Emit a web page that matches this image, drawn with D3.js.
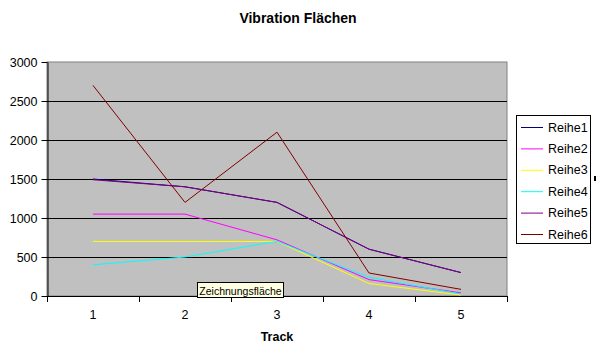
<!DOCTYPE html>
<html>
<head>
<meta charset="utf-8">
<script src="https://cdn.jsdelivr.net/npm/d3@7"></script>
<style>
  html, body { margin: 0; padding: 0; background: #fff; }
  svg { display: block; font-family: Arial, "Liberation Sans", sans-serif; }
</style>
</head>
<body>
<svg id="chart" width="596" height="344"></svg>
<script>
// Track numbers on the category axis
const tracks = ["1", "2", "3", "4", "5"];
const seriesNames = ["Reihe1", "Reihe2", "Reihe3", "Reihe4", "Reihe5", "Reihe6"];
const seriesColors = ["#000080", "#FF00FF", "#FFFF00", "#00FFFF", "#800080", "#800000"];
// Values per series, one per track
const reihe1 = [1500, 1400, 1200, 600, 300];
const reihe2 = [1050, 1050, 720, 210, 40];
const reihe3 = [700, 700, 700, 160, 12];
const reihe4 = [400, 500, 700, 240, 25];
const reihe5 = [1490, 1400, 1200, 600, 300];
const reihe6 = [2700, 1200, 2100, 295, 85];
const yTicks = [0, 500, 1000, 1500, 2000, 2500, 3000];

const seriesValues = [reihe1, reihe2, reihe3, reihe4, reihe5, reihe6];

const svg = d3.select("#chart");
const plot = { left: 47, right: 507, top: 62, bottom: 296 };

const x = d3.scaleBand().domain(tracks).range([plot.left, plot.right]).padding(0);
const y = d3.scaleLinear().domain([0, 3000]).range([plot.bottom, plot.top]);

// Title
svg.append("text")
  .attr("x", 298).attr("y", 23)
  .attr("text-anchor", "middle")
  .attr("font-size", 14).attr("font-weight", "bold")
  .text("Vibration Flächen");

// Plot area background
svg.append("rect")
  .attr("x", plot.left).attr("y", plot.top)
  .attr("width", plot.right - plot.left).attr("height", plot.bottom - plot.top)
  .attr("fill", "#C0C0C0").attr("stroke", "#808080").attr("stroke-width", 1);

// Horizontal gridlines
svg.append("g")
  .selectAll("line")
  .data(yTicks.filter(v => v > 0 && v < 3000))
  .join("line")
  .attr("x1", plot.left).attr("x2", plot.right)
  .attr("y1", d => Math.round(y(d)) + 0.5).attr("y2", d => Math.round(y(d)) + 0.5)
  .attr("stroke", "#000").attr("stroke-width", 1);

// Y axis
const yAxis = svg.append("g")
  .attr("transform", `translate(${plot.left + 0.5},0)`)
  .call(d3.axisLeft(y).tickValues(yTicks).tickFormat(d3.format("d"))
    .tickSize(6).tickSizeOuter(0).tickPadding(4));
yAxis.select(".domain").attr("stroke", "#000");
yAxis.selectAll(".tick line").attr("stroke", "#000");
yAxis.selectAll("text").attr("font-size", 12.5).attr("fill", "#000")
  .attr("font-family", "Arial, 'Liberation Sans', sans-serif");

// X axis: labels at category centers, tick marks between categories
const xAxis = svg.append("g")
  .attr("transform", `translate(0,${plot.bottom + 0.5})`)
  .call(d3.axisBottom(x).tickSize(0).tickPadding(14));
xAxis.select(".domain").remove();
xAxis.selectAll("text").attr("font-size", 12.5).attr("fill", "#000")
  .attr("font-family", "Arial, 'Liberation Sans', sans-serif");
svg.append("line")
  .attr("x1", plot.left).attr("x2", plot.right)
  .attr("y1", plot.bottom + 0.5).attr("y2", plot.bottom + 0.5)
  .attr("stroke", "#000");
const edges = tracks.map(t => x(t)).concat([x(tracks[tracks.length - 1]) + x.bandwidth()]);
svg.append("g").selectAll("line")
  .data(edges)
  .join("line")
  .attr("x1", d => Math.round(d) + 0.5).attr("x2", d => Math.round(d) + 0.5)
  .attr("y1", plot.bottom).attr("y2", plot.bottom + 6)
  .attr("stroke", "#000");

// Axis title
svg.append("text")
  .attr("x", 277).attr("y", 341)
  .attr("text-anchor", "middle")
  .attr("font-size", 12.5).attr("font-weight", "bold")
  .text("Track");

// Series lines
const line = d3.line()
  .x((d, i) => x(tracks[i]) + x.bandwidth() / 2)
  .y(d => y(d));

svg.append("g")
  .selectAll("path")
  .data(seriesValues)
  .join("path")
  .attr("d", d => line(d))
  .attr("fill", "none")
  .attr("stroke", (d, i) => seriesColors[i])
  .attr("stroke-width", 1);

// Legend
const legend = svg.append("g");
legend.append("rect")
  .attr("x", 516.5).attr("y", 115.5).attr("width", 74).attr("height", 128)
  .attr("fill", "#fff").attr("stroke", "#000");
const entries = legend.selectAll("g.entry")
  .data(seriesNames)
  .join("g")
  .attr("class", "entry")
  .attr("transform", (d, i) => `translate(0,${127 + i * 21.4})`);
entries.append("line")
  .attr("x1", 521).attr("x2", 543).attr("y1", 0.5).attr("y2", 0.5)
  .attr("stroke", (d, i) => seriesColors[i]).attr("stroke-width", 1);
entries.append("text")
  .attr("x", 548).attr("y", 4.5)
  .attr("font-size", 12.5).attr("fill", "#000")
  .text(d => d);

// Selection handle on the chart area's right edge
svg.append("rect")
  .attr("x", 594).attr("y", 176).attr("width", 2).attr("height", 5)
  .attr("fill", "#000");

// Hover tip over the plot area
const tip = svg.append("g");
tip.append("rect")
  .attr("x", 197.5).attr("y", 282.5).attr("width", 86).attr("height", 15)
  .attr("fill", "#FFFFE1").attr("stroke", "#000");
tip.append("text")
  .attr("x", 240.5).attr("y", 294.5)
  .attr("text-anchor", "middle")
  .attr("font-size", 10.5).attr("font-family", "Arial, 'Liberation Sans', sans-serif")
  .text("Zeichnungsfläche");
</script>
</body>
</html>
